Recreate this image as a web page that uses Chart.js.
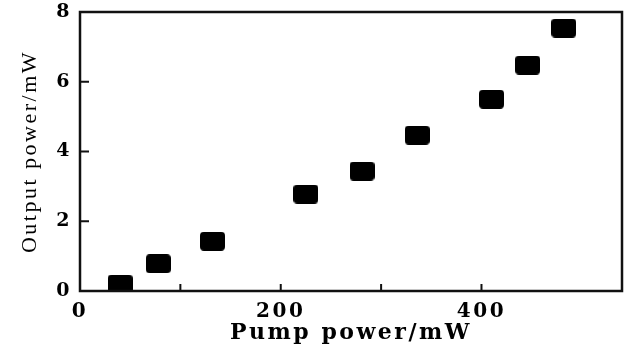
<!DOCTYPE html>
<html>
<head>
<meta charset="utf-8">
<script src="https://cdn.jsdelivr.net/npm/chart.js@4/dist/chart.umd.min.js"></script>
<style>
    html, body { margin: 0; padding: 0; background: #fff; }
    #wrap { width: 628px; height: 347px; position: relative; }
</style>
</head>
<body>
<div id="wrap"><canvas id="powerChart"></canvas></div>
<script>
// data
const pumpPower = [40, 78, 132, 225, 281, 336, 410, 446, 482];
const outputPower = [0.2, 0.78, 1.43, 2.78, 3.44, 4.47, 5.5, 6.48, 7.54];

const xLabelValues = [0, 200, 400];
const yLabelValues = [0, 2, 4, 6, 8];
const xTickMarks = [100, 200, 300, 400];
const yTickMarks = [2, 4, 6];

// filled rounded rectangle marker
function makeMarker(w, h, r) {
    const c = document.createElement('canvas');
    c.width = w;
    c.height = h;
    const g = c.getContext('2d');
    g.fillStyle = '#000';
    g.beginPath();
    g.roundRect(0, 0, w, h, r);
    g.fill();
    return c;
}

// the old figure uses wide lettering
const spacingPlugin = {
    id: 'spacing',
    beforeDraw(chart) {
        chart.ctx.letterSpacing = '2.5px';
    }
};

// frame round the plot and inward ticks
const framePlugin = {
    id: 'frame',
    afterDraw(chart) {
        const { ctx, chartArea: a, scales } = chart;
        ctx.save();
        ctx.strokeStyle = '#111';
        ctx.lineWidth = 2.5;
        ctx.strokeRect(a.left, a.top, a.right - a.left, a.bottom - a.top);
        ctx.lineWidth = 2;
        ctx.beginPath();
        xTickMarks.forEach(v => {
            const px = scales.x.getPixelForValue(v);
            ctx.moveTo(px, a.bottom);
            ctx.lineTo(px, a.bottom - 7);
        });
        yTickMarks.forEach(v => {
            const py = scales.y.getPixelForValue(v);
            ctx.moveTo(a.left, py);
            ctx.lineTo(a.left + 9, py);
        });
        ctx.stroke();
        ctx.restore();
    }
};

function noPadding(scale) {
    scale.paddingLeft = 0;
    scale.paddingRight = 0;
    scale.paddingTop = 0;
    scale.paddingBottom = 0;
}

new Chart(document.getElementById('powerChart'), {
    type: 'scatter',
    data: {
        datasets: [{
            data: pumpPower.map((p, i) => ({ x: p, y: outputPower[i] })),
            pointStyle: makeMarker(25, 19, 4),
            pointRadius: 12
        }]
    },
    options: {
        responsive: true,
        maintainAspectRatio: false,
        animation: false,
        layout: { autoPadding: false, padding: { top: 12, right: 6, left: 0, bottom: 0 } },
        plugins: {
            legend: { display: false },
            tooltip: { enabled: false }
        },
        scales: {
            x: {
                type: 'linear',
                min: 0,
                max: 540,
                afterBuildTicks: scale => { scale.ticks = xLabelValues.map(v => ({ value: v })); },
                afterFit: scale => { scale.height = 56; noPadding(scale); },
                grid: { display: false, drawTicks: false },
                border: { display: false },
                ticks: {
                    color: '#000',
                    padding: 9,
                    maxRotation: 0,
                    font: { family: 'DejaVu Serif', size: 20, weight: 'bold' }
                },
                title: {
                    display: true,
                    text: 'Pump power/mW',
                    color: '#000',
                    padding: { top: 0, bottom: 1 },
                    font: { family: 'DejaVu Serif', size: 22, weight: 'bold' }
                }
            },
            y: {
                min: 0,
                max: 8,
                afterBuildTicks: scale => { scale.ticks = yLabelValues.map(v => ({ value: v })); },
                afterFit: scale => { scale.width = 80; noPadding(scale); },
                grid: { display: false, drawTicks: false },
                border: { display: false },
                ticks: {
                    color: '#000',
                    padding: 8,
                    font: { family: 'DejaVu Serif', size: 19, weight: 'bold' }
                },
                title: {
                    display: true,
                    text: 'Output power/mW',
                    color: '#000',
                    padding: { top: 17, bottom: 0 },
                    font: { family: 'Liberation Serif', size: 22 }
                }
            }
        }
    },
    plugins: [spacingPlugin, framePlugin]
});
</script>
</body>
</html>
